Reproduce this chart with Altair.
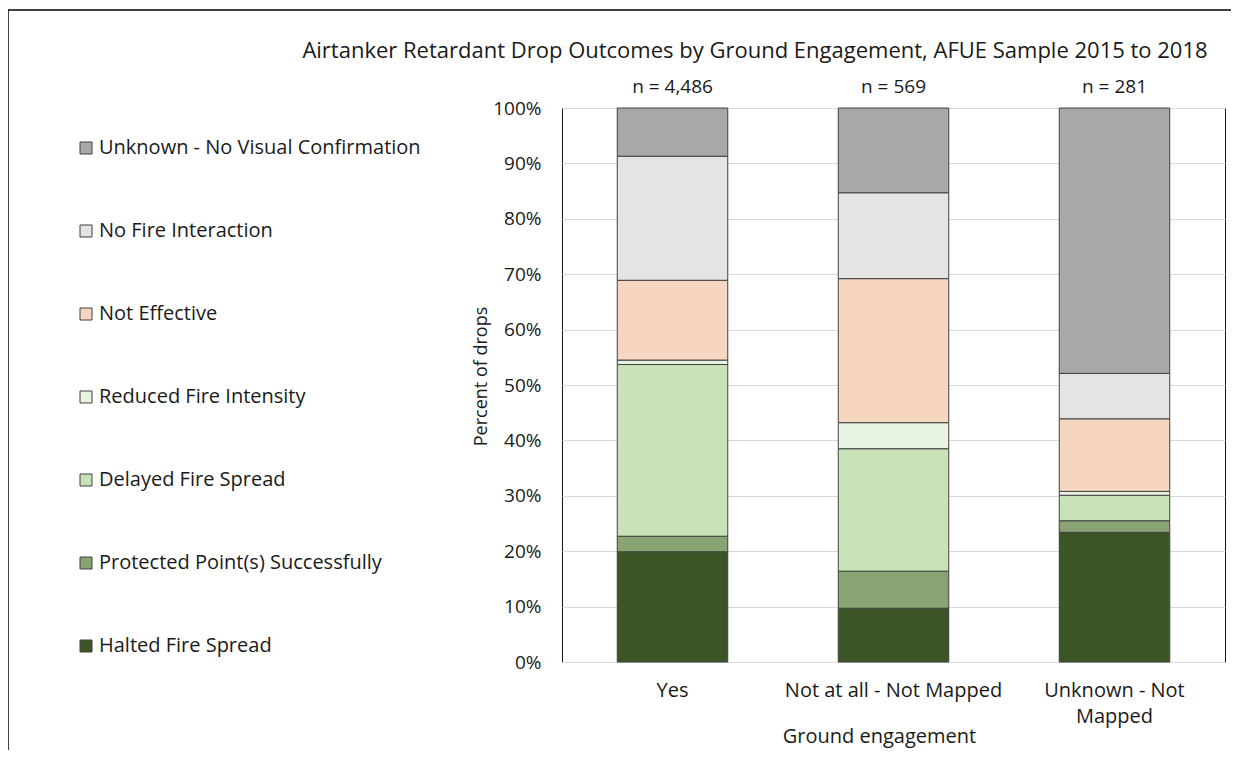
import altair as alt
import pandas as pd

categories = ["Yes", "Not at all - Not Mapped", "Unknown - Not Mapped"]
n_labels = ["n = 4,486", "n = 569", "n = 281"]
chart_title = ["Airtanker Retardant Drop Outcomes by Ground Engagement, AFUE Sample 2015 to 2018"]

# stacking order, bottom to top
outcomes = [
    "Halted Fire Spread",
    "Protected Point(s) Successfully",
    "Delayed Fire Spread",
    "Reduced Fire Intensity",
    "Not Effective",
    "No Fire Interaction",
    "Unknown - No Visual Confirmation",
]
halted = [19.9, 9.7, 23.4]
protected = [2.8, 6.7, 2.1]
delayed = [31.0, 22.1, 4.6]
reduced = [0.8, 4.7, 0.7]
not_effective = [14.4, 26.0, 13.1]
no_fire = [22.4, 15.5, 8.2]
unknown = [8.7, 15.3, 47.9]

colors = ["#3b5524", "#88a472", "#c9e3b8", "#e9f3e1", "#f6d6c0", "#e4e4e4", "#a8a8a8"]

series = [halted, protected, delayed, reduced, not_effective, no_fire, unknown]
rows = []
for k, (name, vals) in enumerate(zip(outcomes, series)):
    for c, v in zip(categories, vals):
        rows.append({"cat": c, "outcome": name, "pct": v, "idx": k})
df = pd.DataFrame(rows)

totals = [sum(s[i] for s in series) for i in range(len(categories))]
ndf = pd.DataFrame({"cat": categories, "label": n_labels, "total": totals})

FONT = "Open Sans"
TXT = "#1a1a1a"

legend_order = outcomes[::-1]
legend_colors = colors[::-1]

bars = alt.Chart(df).mark_bar(stroke="#404040", strokeWidth=1).encode(
    x=alt.X(
        "cat:N",
        sort=categories,
        scale=alt.Scale(paddingInner=0.5, paddingOuter=0.25),
        axis=alt.Axis(
            title="Ground engagement",
            labelAngle=0,
            labelFontSize=20,
            labelPadding=18,
            labelLineHeight=26,
            labelLimit=400,
            labelExpr="datum.label == 'Unknown - Not Mapped' ? ['Unknown - Not', 'Mapped'] : datum.label",
            titleFontSize=20,
            titlePadding=0,
            titleX=317,
            titleFontWeight="normal",
            ticks=False,
            domain=True,
            domainColor="#d9d9d9",
            grid=False,
        ),
    ),
    y=alt.Y(
        "pct:Q",
        stack="zero",
        scale=alt.Scale(domain=[0, 100]),
        axis=alt.Axis(
            title="Percent of drops",
            values=list(range(0, 101, 10)),
            labelExpr="datum.value + '%'",
            labelFontSize=19,
            labelPadding=21,
            titleFontSize=18,
            titleFontWeight="normal",
            titlePadding=2,
            titleY=268,
            ticks=False,
            domain=False,
            gridColor="#d9d9d9",
        ),
    ),
    color=alt.Color(
        "outcome:N",
        scale=alt.Scale(domain=legend_order, range=legend_colors),
        legend=alt.Legend(
            title=None,
            orient="none",
            legendX=-486,
            legendY=30,
            symbolType="square",
            symbolSize=144,
            symbolStrokeColor="#404040",
            symbolStrokeWidth=1,
            labelFontSize=20,
            labelOffset=3,
            rowPadding=63,
            labelLimit=400,
            padding=0,
        ),
    ),
    order=alt.Order("idx:Q"),
)

ntext = alt.Chart(ndf).mark_text(
    baseline="middle", dy=-21, fontSize=19, font=FONT, color=TXT
).encode(
    x=alt.X("cat:N", sort=categories),
    y=alt.Y("total:Q"),
    text="label:N",
)

title_df = pd.DataFrame({"t": chart_title})
title_text = alt.Chart(title_df).mark_text(
    align="center", baseline="middle", fontSize=22, font=FONT, color=TXT
).encode(
    x=alt.value(193), y=alt.value(-57), text="t:N"
)

frame_df = pd.DataFrame({"a": [0]})
frame_left = alt.Chart(frame_df).mark_rule(color="black", strokeWidth=1.5).encode(
    x=alt.value(-554), y=alt.value(-98), y2=alt.value(700)
)
frame_top = alt.Chart(frame_df).mark_rule(color="black", strokeWidth=1.5).encode(
    x=alt.value(-554), x2=alt.value(700), y=alt.value(-98)
)

chart = (
    alt.layer(bars, ntext, title_text, frame_left, frame_top)
    .properties(
        width=663,
        height=554,
        autosize=alt.AutoSizeParams(type="none"),
        padding={"left": 554, "top": 100, "right": 6, "bottom": 88},
    )
    .configure(font=FONT)
    .configure_axis(labelColor=TXT, titleColor=TXT, labelFont=FONT, titleFont=FONT)
    .configure_legend(labelColor=TXT, labelFont=FONT)
    .configure_view(stroke="#1a1a1a", strokeWidth=1)
)

chart.save("out.html", embed_options={"renderer": "svg", "actions": False})
